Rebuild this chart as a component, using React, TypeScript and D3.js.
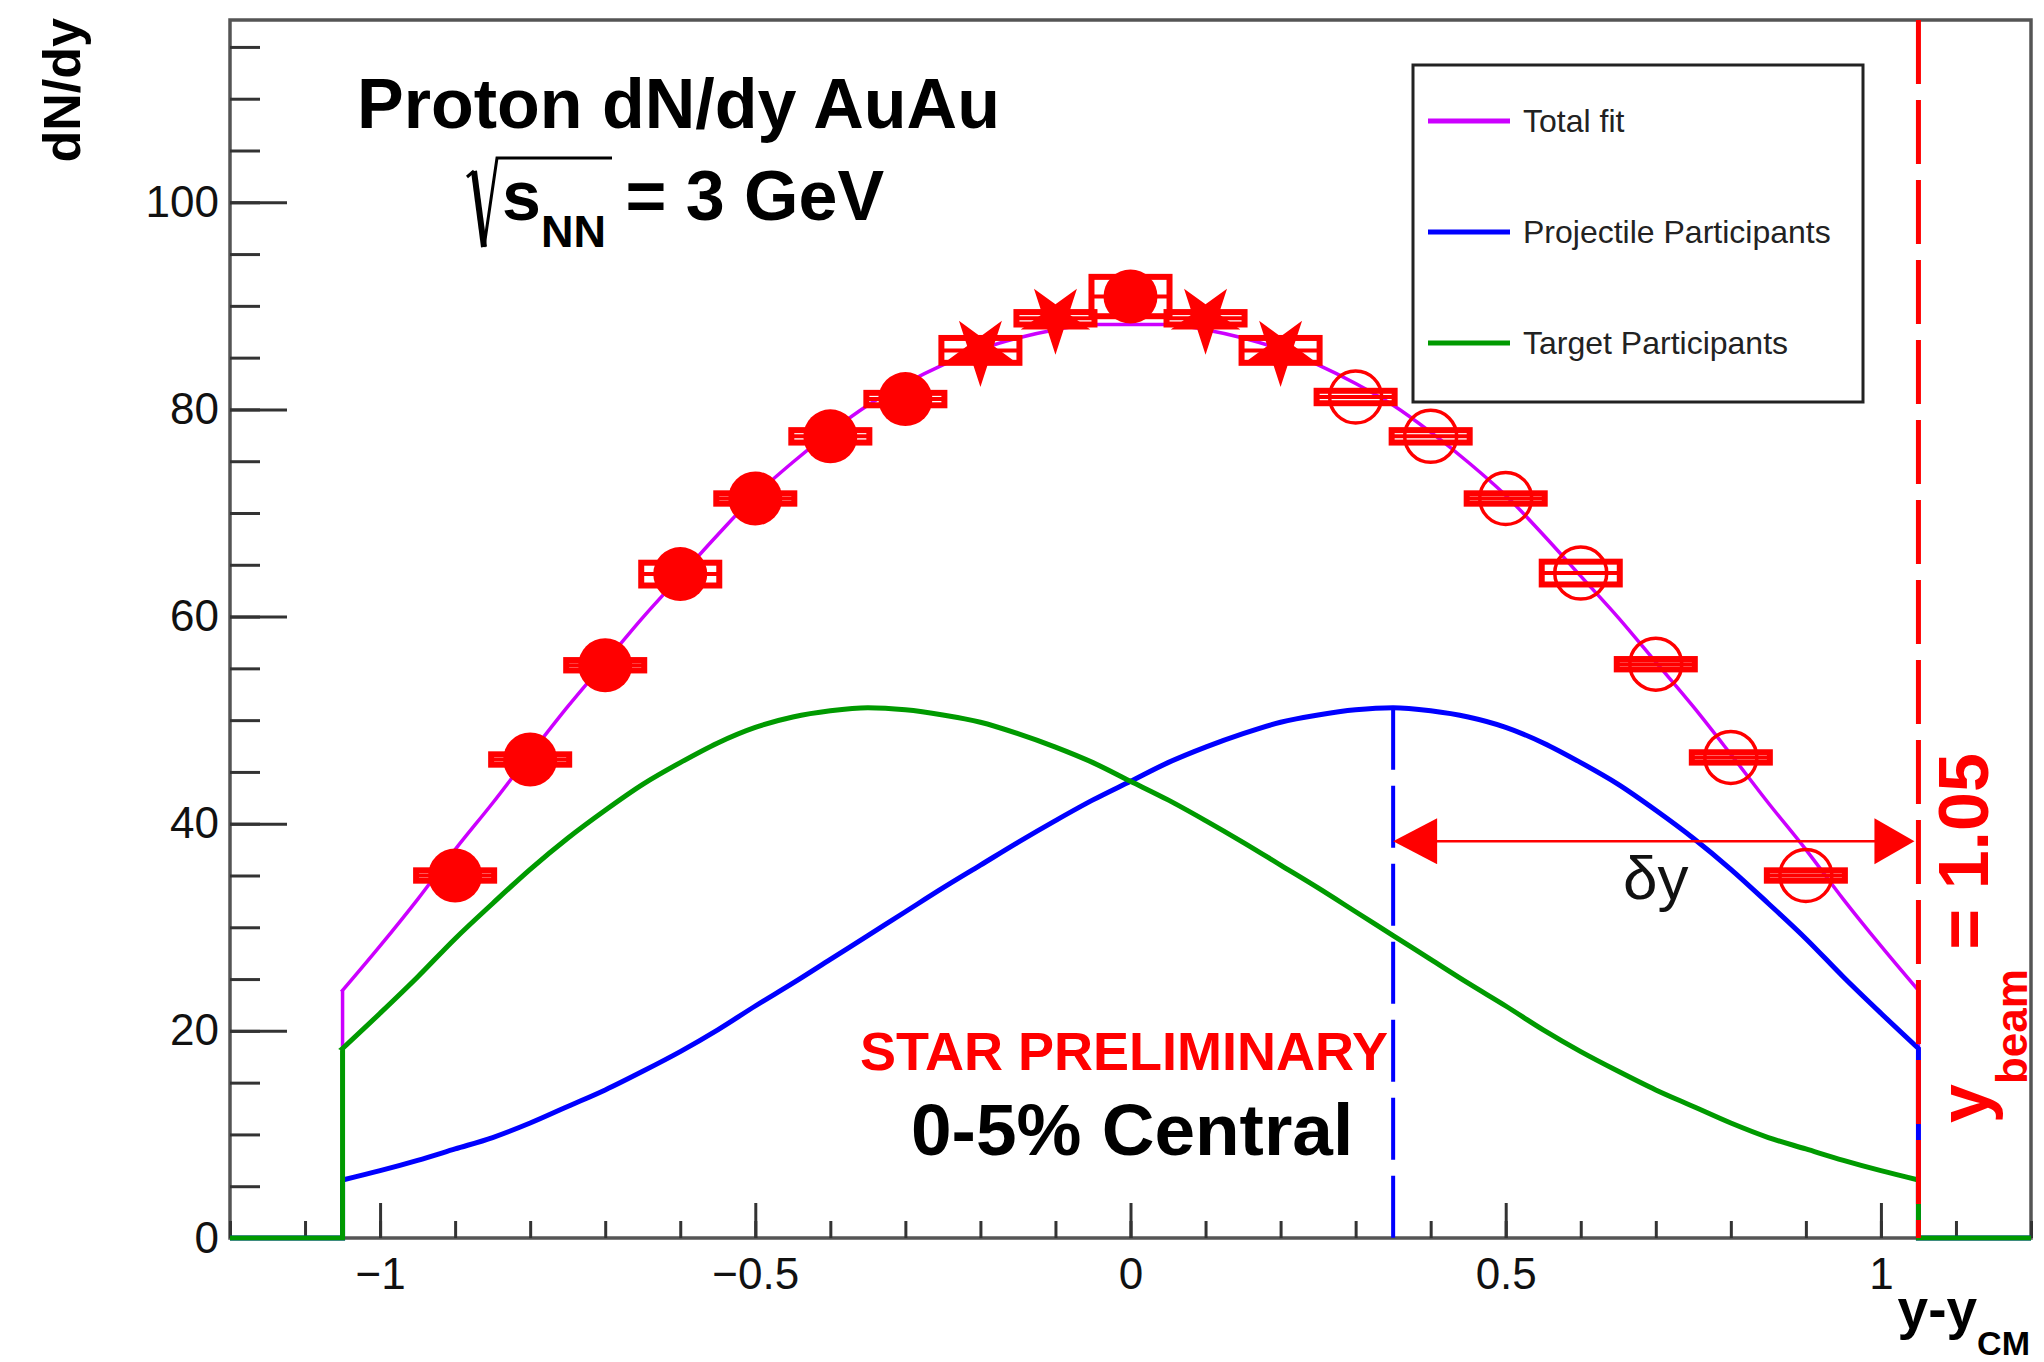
import { useEffect, useRef } from 'react';
import * as d3 from 'd3';

// ---------------------------------------------------------------------------
// Proton dN/dy in AuAu at sqrt(s_NN) = 3 GeV, 0-5% central (STAR preliminary)
// ---------------------------------------------------------------------------

const WIDTH = 2044;
const HEIGHT = 1362;
const FONT = '"Liberation Sans", Arial, Helvetica, sans-serif';

// measured points (rapidity bins, dN/dy, half height of systematic box)
const pointRapidity = [-0.9, -0.8, -0.7, -0.6, -0.5, -0.4, -0.3, -0.2, -0.1, 0, 0.1, 0.2, 0.3, 0.4, 0.5, 0.6, 0.7, 0.8, 0.9];
const pointDNdy = [35.0, 46.2, 55.3, 64.1, 71.4, 77.4, 81.0, 85.7, 88.8, 90.9, 88.8, 85.7, 81.2, 77.4, 71.4, 64.2, 55.4, 46.4, 35.0];
const pointSyst = [0.5, 0.5, 0.5, 1.1, 0.5, 0.6, 0.6, 1.2, 0.6, 1.9, 0.6, 1.2, 0.6, 0.6, 0.5, 1.1, 0.5, 0.5, 0.5];
const pointMarker = ['full', 'full', 'full', 'full', 'full', 'full', 'full', 'star', 'star', 'full', 'star', 'star', 'open', 'open', 'open', 'open', 'open', 'open', 'open'];
const binHalfWidth = 0.052;

// fit curves sampled every 0.05 between -y_beam and +y_beam
const fitRapidity = [
  -1.05, -1.0, -0.95, -0.9, -0.85, -0.8, -0.75, -0.7, -0.65, -0.6, -0.55, -0.5, -0.45, -0.4, -0.35,
  -0.3, -0.25, -0.2, -0.15, -0.1, -0.05, 0, 0.05, 0.1, 0.15, 0.2, 0.25, 0.3, 0.35, 0.4, 0.45, 0.5,
  0.55, 0.6, 0.65, 0.7, 0.75, 0.8, 0.85, 0.9, 0.95, 1.0, 1.05,
];
const totalFit = [
  23.9, 28.2, 32.7, 37.5, 42.0, 46.7, 51.3, 55.6, 59.9, 63.9, 67.9, 71.7, 74.9, 77.8, 80.4,
  82.5, 84.3, 85.8, 86.9, 87.7, 88.2, 88.2, 88.2, 87.7, 86.9, 85.8, 84.3, 82.5, 80.4, 77.8, 74.9, 71.7,
  67.9, 63.9, 59.9, 55.6, 51.3, 46.7, 42.0, 37.5, 32.7, 28.2, 23.9,
];
const projectileFit = [
  5.6, 6.5, 7.5, 8.6, 9.7, 11.1, 12.7, 14.3, 16.1, 18.0, 20.1, 22.4, 24.6, 26.9, 29.2,
  31.5, 33.8, 36.0, 38.2, 40.3, 42.3, 44.1, 45.9, 47.4, 48.7, 49.8, 50.5, 51.0, 51.2, 50.9, 50.3, 49.3,
  47.8, 45.9, 43.8, 41.3, 38.6, 35.6, 32.3, 28.9, 25.2, 21.7, 18.3,
];
const targetFit = [
  18.3, 21.7, 25.2, 28.9, 32.3, 35.6, 38.6, 41.3, 43.8, 45.9, 47.8, 49.3, 50.3, 50.9, 51.2,
  51.0, 50.5, 49.8, 48.7, 47.4, 45.9, 44.1, 42.3, 40.3, 38.2, 36.0, 33.8, 31.5, 29.2, 26.9, 24.6, 22.4,
  20.1, 18.0, 16.1, 14.3, 12.7, 11.1, 9.7, 8.6, 7.5, 6.5, 5.6,
];

const yBeam = 1.05;
const projectilePeak = 0.35;
const projectilePeakValue = 51.2;
const arrowLevel = 38.3;

const xDomain = [-1.2, 1.2];
const yDomain = [0, 117.6];
const xTickMajor = [-1, -0.5, 0, 0.5, 1];
const xTickLabels = ['\u22121', '\u22120.5', '0', '0.5', '1'];
const yTickMajor = [0, 20, 40, 60, 80, 100];
const yTickLabels = ['0', '20', '40', '60', '80', '100'];

const legendLabels = ['Total fit', 'Projectile Participants', 'Target Participants'];
const legendColors = ['#cc00ff', '#0000ff', '#009a00'];

const FRAME = { left: 230, right: 2031, top: 20, bottom: 1238 };

export default function App() {
  const axesRef = useRef<SVGGElement>(null);

  const x = d3.scaleLinear().domain(xDomain).range([FRAME.left, FRAME.right]);
  const y = d3.scaleLinear().domain(yDomain).range([FRAME.bottom, FRAME.top]);

  const line = d3
    .line<[number, number]>()
    .x((d) => x(d[0]))
    .y((d) => y(d[1]))
    .curve(d3.curveMonotoneX);

  const curvePath = (values: number[]) => {
    const inner = line(fitRapidity.map((r, i) => [r, values[i]] as [number, number])) || '';
    const x0 = x(fitRapidity[0]);
    const x1 = x(fitRapidity[fitRapidity.length - 1]);
    // zero outside [-y_beam, y_beam], vertical drops at both ends
    return (
      `M${x(xDomain[0])},${y(0)}L${x0},${y(0)}L${x0},${y(values[0])}` +
      inner.replace(/^M/, 'L') +
      `L${x1},${y(0)}L${x(xDomain[1])},${y(0)}`
    );
  };

  const starPath = d3.symbol(d3.symbolStar, 1500)() || '';

  useEffect(() => {
    if (!axesRef.current) return;
    const g = d3.select(axesRef.current);
    g.selectAll('*').remove();

    // minor ticks first
    g.append('g')
      .attr('transform', `translate(${FRAME.left},0)`)
      .call(
        d3.axisLeft(y)
          .tickValues(d3.range(0, yDomain[1], 5))
          .tickSize(-30)
          .tickFormat(() => '')
      );
    g.append('g')
      .attr('transform', `translate(0,${FRAME.bottom})`)
      .call(
        d3.axisBottom(x)
          .tickValues(x.ticks(24))
          .tickSize(-17)
          .tickFormat(() => '')
      );

    // major ticks with labels
    g.append('g')
      .attr('transform', `translate(${FRAME.left},0)`)
      .call(
        d3.axisLeft(y)
          .tickValues(yTickMajor)
          .tickSize(-57)
          .tickPadding(11)
          .tickFormat((_, i) => yTickLabels[i])
      );
    g.append('g')
      .attr('transform', `translate(0,${FRAME.bottom})`)
      .call(
        d3.axisBottom(x)
          .tickValues(xTickMajor)
          .tickSize(-35)
          .tickPadding(20)
          .tickFormat((_, i) => xTickLabels[i])
      );

    g.selectAll('.domain').remove();
    g.selectAll('.tick line').attr('stroke', '#333').attr('stroke-width', 3);
    g.selectAll('g').attr('font-family', FONT).attr('font-size', 44);
    g.selectAll('.tick text').attr('fill', '#111');
  }, []);

  return (
    <div style={{ position: 'absolute', left: 0, top: 0 }}>
      <svg width={WIDTH} height={HEIGHT} style={{ display: 'block', background: '#fff' }} fontFamily={FONT}>
        <rect x={0} y={0} width={WIDTH} height={HEIGHT} fill="#fff" />

        {/* frame */}
        <rect
          x={FRAME.left}
          y={FRAME.top}
          width={FRAME.right - FRAME.left}
          height={FRAME.bottom - FRAME.top}
          fill="none"
          stroke="#555"
          strokeWidth={3.5}
        />
        <g ref={axesRef} />

        {/* fit curves */}
        <path d={curvePath(totalFit)} fill="none" stroke={legendColors[0]} strokeWidth={3.5} />
        <path d={curvePath(projectileFit)} fill="none" stroke={legendColors[1]} strokeWidth={5} />
        <path d={curvePath(targetFit)} fill="none" stroke={legendColors[2]} strokeWidth={5} />

        {/* projectile peak marker and beam rapidity */}
        <line
          x1={x(projectilePeak)}
          x2={x(projectilePeak)}
          y1={y(projectilePeakValue)}
          y2={y(0)}
          stroke="#0000ff"
          strokeWidth={4}
          strokeDasharray="62,16"
        />
        <line
          x1={x(yBeam)}
          x2={x(yBeam)}
          y1={FRAME.top}
          y2={FRAME.bottom}
          stroke="#ff0000"
          strokeWidth={5}
          strokeDasharray="64,16"
        />

        {/* delta y arrow */}
        <line
          x1={x(projectilePeak) + 10}
          x2={x(yBeam) - 10}
          y1={y(arrowLevel)}
          y2={y(arrowLevel)}
          stroke="#ff0000"
          strokeWidth={2.5}
        />
        <path d={`M${x(projectilePeak)},${y(arrowLevel)} l44,-23 l0,46 z`} fill="#ff0000" />
        <path d={`M${x(yBeam) - 4},${y(arrowLevel)} l-40,-23 l0,46 z`} fill="#ff0000" />
        <text x={x((projectilePeak + yBeam) / 2)} y={899} fontSize={62} textAnchor="middle" fill="#111">
          δy
        </text>

        {/* data points */}
        {pointRapidity.map((r, i) => {
          const cx = x(r);
          const cy = y(pointDNdy[i]);
          const x0 = x(r - binHalfWidth);
          const x1 = x(r + binHalfWidth);
          const y0 = y(pointDNdy[i] + pointSyst[i]);
          const y1 = y(pointDNdy[i] - pointSyst[i]);
          return (
            <g key={`pt-${i}`}>
              <rect
                x={x0}
                y={y0}
                width={x1 - x0}
                height={y1 - y0}
                fill="none"
                stroke="#ff0000"
                strokeWidth={6}
              />
              <line x1={x0} x2={x1} y1={cy} y2={cy} stroke="#ff0000" strokeWidth={4} />
              {pointMarker[i] === 'full' && <circle cx={cx} cy={cy} r={27} fill="#ff0000" />}
              {pointMarker[i] === 'open' && (
                <circle cx={cx} cy={cy} r={26} fill="none" stroke="#ff0000" strokeWidth={3.5} />
              )}
              {pointMarker[i] === 'star' && (
                <path d={starPath} transform={`translate(${cx},${cy}) rotate(180)`} fill="#ff0000" />
              )}
            </g>
          );
        })}

        {/* legend */}
        <rect x={1413} y={65} width={450} height={337} fill="#fff" stroke="#222" strokeWidth={3} />
        {legendLabels.map((label, i) => (
          <g key={label} transform={`translate(0,${121 + i * 111})`}>
            <line x1={1428} x2={1510} y1={0} y2={0} stroke={legendColors[i]} strokeWidth={5} />
            <text x={1523} y={11} fontSize={32} fill="#222">
              {label}
            </text>
          </g>
        ))}

        {/* titles */}
        <text x={357} y={128} fontSize={70} fontWeight="bold" fill="#000">
          Proton dN/dy AuAu
        </text>
        <path d="M467,177 L474,171" stroke="#000" strokeWidth={3} fill="none" />
        <path d="M474,171 L484,247" stroke="#000" strokeWidth={6} fill="none" />
        <path d="M484,247 L497,158 L612,158" stroke="#000" strokeWidth={3} fill="none" />
        <text x={502} y={220} fontSize={70} fontWeight="bold" fill="#000">
          s
          <tspan fontSize={45} dy={27}>NN</tspan>
          <tspan dy={-27}> = 3 GeV</tspan>
        </text>

        <text x={860} y={1070} fontSize={54} fontWeight="bold" fill="#ff0000">
          STAR PRELIMINARY
        </text>
        <text x={911} y={1155} fontSize={73} fontWeight="bold" fill="#000">
          0-5% Central
        </text>

        {/* y_beam label */}
        <text transform="translate(1988,1123) rotate(-90)" fontSize={70} fontWeight="bold" fill="#ff0000">
          y
          <tspan fontSize={44} dy={39}>beam</tspan>
          <tspan dy={-39}> = 1.05</tspan>
        </text>

        {/* axis titles */}
        <text transform="translate(80,18) rotate(-90)" fontSize={52} fontWeight="bold" textAnchor="end" fill="#000">
          dN/dy
        </text>
        <text x={2030} y={1328} fontSize={55} fontWeight="bold" textAnchor="end" fill="#000">
          y-y
          <tspan fontSize={34} dy={27}>CM</tspan>
        </text>
      </svg>
    </div>
  );
}
